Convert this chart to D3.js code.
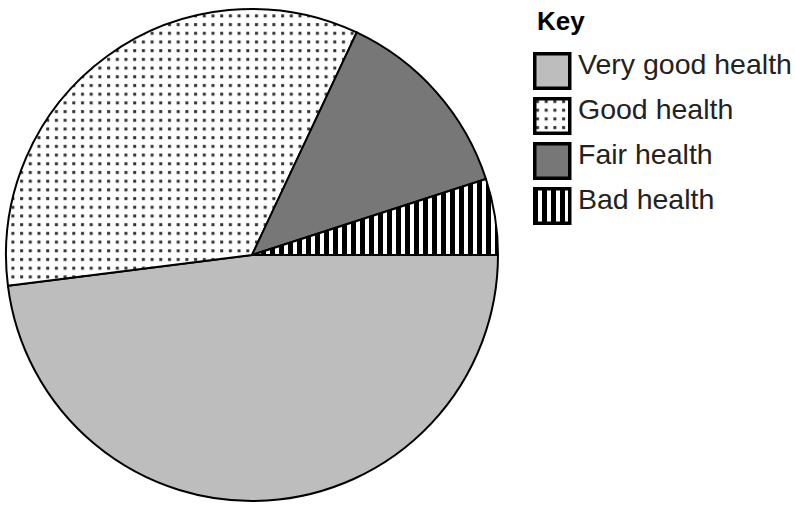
<!DOCTYPE html>
<html>
<head>
<meta charset="utf-8">
<script src="https://cdn.jsdelivr.net/npm/d3@7"></script>
<style>
  body { margin: 0; background: #fff; }
  svg { display: block; }
</style>
</head>
<body>
<div id="chart"></div>
<script>
// data (percent)
const categories = ["Very good health", "Good health", "Fair health", "Bad health"];
const values = [48, 34, 13, 5];
const fills = ["#bdbdbd", "url(#dots)", "#777777", "url(#stripes)"];

const width = 795, height = 505;
const cx = 252, cy = 255, radius = 246;

const svg = d3
  .select("#chart")
  .append("svg")
  .attr("width", width)
  .attr("height", height);

const defs = svg.append("defs");

// dotted pattern for "Good health"
const dots = defs.append("pattern")
  .attr("id", "dots")
  .attr("patternUnits", "userSpaceOnUse")
  .attr("width", 8.7)
  .attr("height", 8.7);
dots.append("rect").attr("width", 8.7).attr("height", 8.7).attr("fill", "#fff");
dots.append("rect").attr("x", 3).attr("y", 3).attr("width", 3).attr("height", 3).attr("fill", "#333");

// vertical stripes for "Bad health"
const stripes = defs.append("pattern")
  .attr("id", "stripes")
  .attr("patternUnits", "userSpaceOnUse")
  .attr("width", 9)
  .attr("height", 9);
stripes.append("rect").attr("width", 9).attr("height", 9).attr("fill", "#fff");
stripes.append("rect").attr("x", 0).attr("width", 5).attr("height", 9).attr("fill", "#000");

const pie = d3.pie()
  .sort(null)
  .startAngle(Math.PI / 2)
  .endAngle(Math.PI / 2 + 2 * Math.PI);

const arc = d3.arc().innerRadius(0).outerRadius(radius);

const g = svg.append("g").attr("transform", `translate(${cx},${cy})`);

g.selectAll("path.slice")
  .data(pie(values))
  .join("path")
  .attr("class", "slice")
  .attr("d", arc)
  .attr("fill", (d, i) => fills[i])
  .attr("stroke", "#000")
  .attr("stroke-width", 2)
  .attr("stroke-linejoin", "round");

// legend
const legend = svg.append("g").attr("transform", "translate(533,0)");

legend.append("text")
  .attr("x", 4)
  .attr("y", 30)
  .text("Key")
  .style("font-family", "Liberation Sans, Arial, sans-serif")
  .style("font-weight", "bold")
  .style("font-size", "26px");

const item = legend.selectAll("g.item")
  .data(categories)
  .join("g")
  .attr("class", "item")
  .attr("transform", (d, i) => `translate(0,${52 + i * 45})`);

item.append("rect")
  .attr("x", 1.75)
  .attr("y", 1.75)
  .attr("width", 35)
  .attr("height", 34.5)
  .attr("fill", (d, i) => fills[i])
  .attr("stroke", "#000")
  .attr("stroke-width", 3.5);

item.append("text")
  .attr("x", 45)
  .attr("y", 22)
  .text(d => d)
  .style("font-family", "Liberation Sans, Arial, sans-serif")
  .style("font-size", "28.5px")
  .style("fill", "#222");
</script>
</body>
</html>
